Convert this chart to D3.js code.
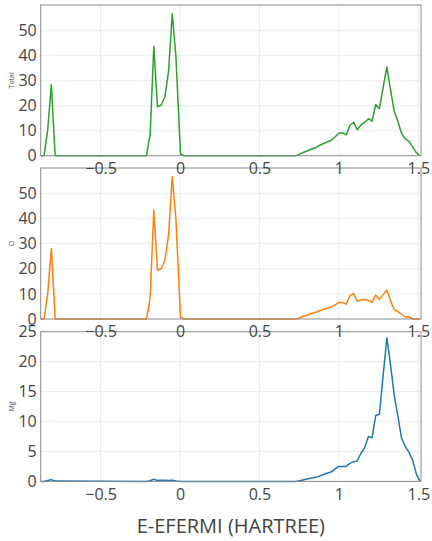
<!DOCTYPE html>
<html>
<head>
<meta charset="utf-8">
<script src="https://cdn.jsdelivr.net/npm/d3@7"></script>
<style>
  html, body { margin: 0; padding: 0; background: #fff; }
  svg { display: block; font-family: "Open Sans", "DejaVu Sans", sans-serif; }
</style>
</head>
<body>
<svg id="chart" width="432" height="541"></svg>
<script>
// ---------------- data ----------------
const energies = [-0.877, -0.856, -0.833, -0.810, -0.786, -0.211, -0.188, -0.165, -0.142, -0.118,
  -0.095, -0.072, -0.049, -0.026, 0.003, 0.026, 0.722, 0.745, 0.768, 0.791,
  0.815, 0.838, 0.861, 0.884, 0.907, 0.930, 0.954, 0.977, 1.000, 1.023,
  1.046, 1.070, 1.093, 1.116, 1.139, 1.162, 1.186, 1.209, 1.232, 1.255,
  1.278, 1.302, 1.325, 1.348, 1.371, 1.394, 1.418, 1.441, 1.464, 1.487, 1.510];

const totalDos = [0, 0, 10.3, 28.4, 0, 0, 8.4, 43.8, 19.6, 20.3,
  23.6, 33.8, 56.8, 40.0, 0.7, 0, 0, 0.3, 1.1, 1.7,
  2.3, 2.9, 3.4, 4.3, 5.0, 5.6, 6.3, 7.6, 9.0, 9.2,
  8.3, 12.2, 13.4, 10.4, 12.3, 13.3, 14.8, 13.8, 20.5, 18.8,
  27.0, 35.5, 26.5, 17.8, 13.8, 9.0, 6.6, 5.8, 3.6, 1.2, 0];

const oDos = [0, 0, 10.1, 28.1, 0, 0, 8.3, 43.4, 19.4, 20.1,
  23.4, 33.6, 56.6, 39.9, 0.7, 0, 0, 0.2, 0.9, 1.4,
  1.9, 2.4, 2.8, 3.4, 3.9, 4.3, 4.8, 5.6, 6.6, 6.6,
  5.9, 9.3, 10.2, 7.0, 7.6, 7.8, 7.4, 6.6, 9.5, 7.8,
  9.6, 11.5, 7.3, 3.8, 2.9, 2.0, 0.8, 0.9, 0, 0, 0];

const mgDos = [0, 0, 0.15, 0.3, 0.05, 0, 0.1, 0.35, 0.15, 0.2,
  0.2, 0.15, 0.2, 0.05, 0, 0, 0, 0.05, 0.2, 0.35,
  0.5, 0.6, 0.75, 0.95, 1.2, 1.4, 1.6, 2.1, 2.5, 2.5,
  2.5, 3.0, 3.3, 3.4, 4.7, 5.6, 7.5, 7.3, 11.0, 11.2,
  17.5, 24.0, 19.5, 14.5, 11.0, 7.3, 5.8, 4.9, 3.6, 1.3, 0];

const seriesNames = ["Total", "O", "Mg"];
const seriesColors = ["#2ca02c", "#ff7f0e", "#1f77b4"];
const xTicks = [-0.5, 0, 0.5, 1, 1.5];
const yTicksTotal = [0, 10, 20, 30, 40, 50];
const yTicksO = [0, 10, 20, 30, 40, 50];
const yTicksMg = [0, 5, 10, 15, 20, 25];
const yMaxes = [60.3, 60.1, 25.0];
const xTitle = "E-EFERMI (HARTREE)";

// ---------------- layout ----------------
const svg = d3.select("#chart");
const left = 40.7, right = 421;
const panels = [
  { top: 5, bottom: 155.7 },
  { top: 168, bottom: 319 },
  { top: 331.7, bottom: 481.4 }
];
const seriesData = [totalDos, oDos, mgDos];
const yTickSets = [yTicksTotal, yTicksO, yTicksMg];

const x = d3.scaleLinear().domain([-0.877, 1.517]).range([left, right]);
const fmt = d => (d < 0 ? "\u2212" : "") + String(Math.abs(d));

const gridLayer = svg.append("g");
const lineLayer = svg.append("g");
const frameLayer = svg.append("g");
const textLayer = svg.append("g");

panels.forEach((p, i) => {
  const y = d3.scaleLinear().domain([0, yMaxes[i]]).range([p.bottom, p.top]);

  // grid
  gridLayer.append("g")
    .selectAll("line.vx").data(xTicks.filter(t => x(t) < right - 1)).enter().append("line")
    .attr("x1", d => x(d)).attr("x2", d => x(d))
    .attr("y1", p.top).attr("y2", p.bottom)
    .attr("stroke", "#ececec").attr("stroke-width", 1);
  gridLayer.append("g")
    .selectAll("line.hy").data(yTickSets[i].filter(t => t > 0 && y(t) > p.top + 1)).enter().append("line")
    .attr("x1", left).attr("x2", right)
    .attr("y1", d => y(d)).attr("y2", d => y(d))
    .attr("stroke", "#ececec").attr("stroke-width", 1);

  // line
  const pts = energies.map((e, k) => [e, seriesData[i][k]]);
  lineLayer.append("path")
    .datum(pts)
    .attr("fill", "none")
    .attr("stroke", seriesColors[i])
    .attr("stroke-width", 1.5)
    .attr("stroke-linejoin", "round")
    .attr("d", d3.line().x(d => x(d[0])).y(d => y(d[1])));

  // frame
  frameLayer.append("rect")
    .attr("x", left).attr("y", p.top)
    .attr("width", right - left).attr("height", p.bottom - p.top)
    .attr("fill", "none").attr("stroke", "#8a8a8a").attr("stroke-width", 1);

  // axes
  const ya = textLayer.append("g")
    .attr("transform", `translate(${left},0)`)
    .call(d3.axisLeft(y).tickValues(yTickSets[i]).tickSize(0).tickPadding(4).tickFormat(fmt));
  ya.select(".domain").remove();
  ya.selectAll("text").attr("font-size", 16).attr("fill", "#444")
    .attr("font-family", "'Open Sans', sans-serif");

  const xa = textLayer.append("g")
    .attr("transform", `translate(0,${p.bottom})`)
    .call(d3.axisBottom(x).tickValues(xTicks).tickSize(0).tickPadding(7).tickFormat(fmt));
  xa.select(".domain").remove();
  xa.selectAll("text").attr("font-size", 16).attr("fill", "#444")
    .attr("font-family", "'Open Sans', sans-serif");

  // y title
  const cy = (p.top + p.bottom) / 2;
  textLayer.append("text")
    .attr("transform", `translate(14,${cy}) rotate(-90)`)
    .attr("text-anchor", "middle")
    .attr("font-size", 7)
    .attr("fill", "#444")
    .text(seriesNames[i]);
});

textLayer.append("text")
  .attr("x", (left + right) / 2)
  .attr("y", 533)
  .attr("text-anchor", "middle")
  .attr("font-size", 20)
  .attr("fill", "#444")
  .text(xTitle);
</script>
</body>
</html>
